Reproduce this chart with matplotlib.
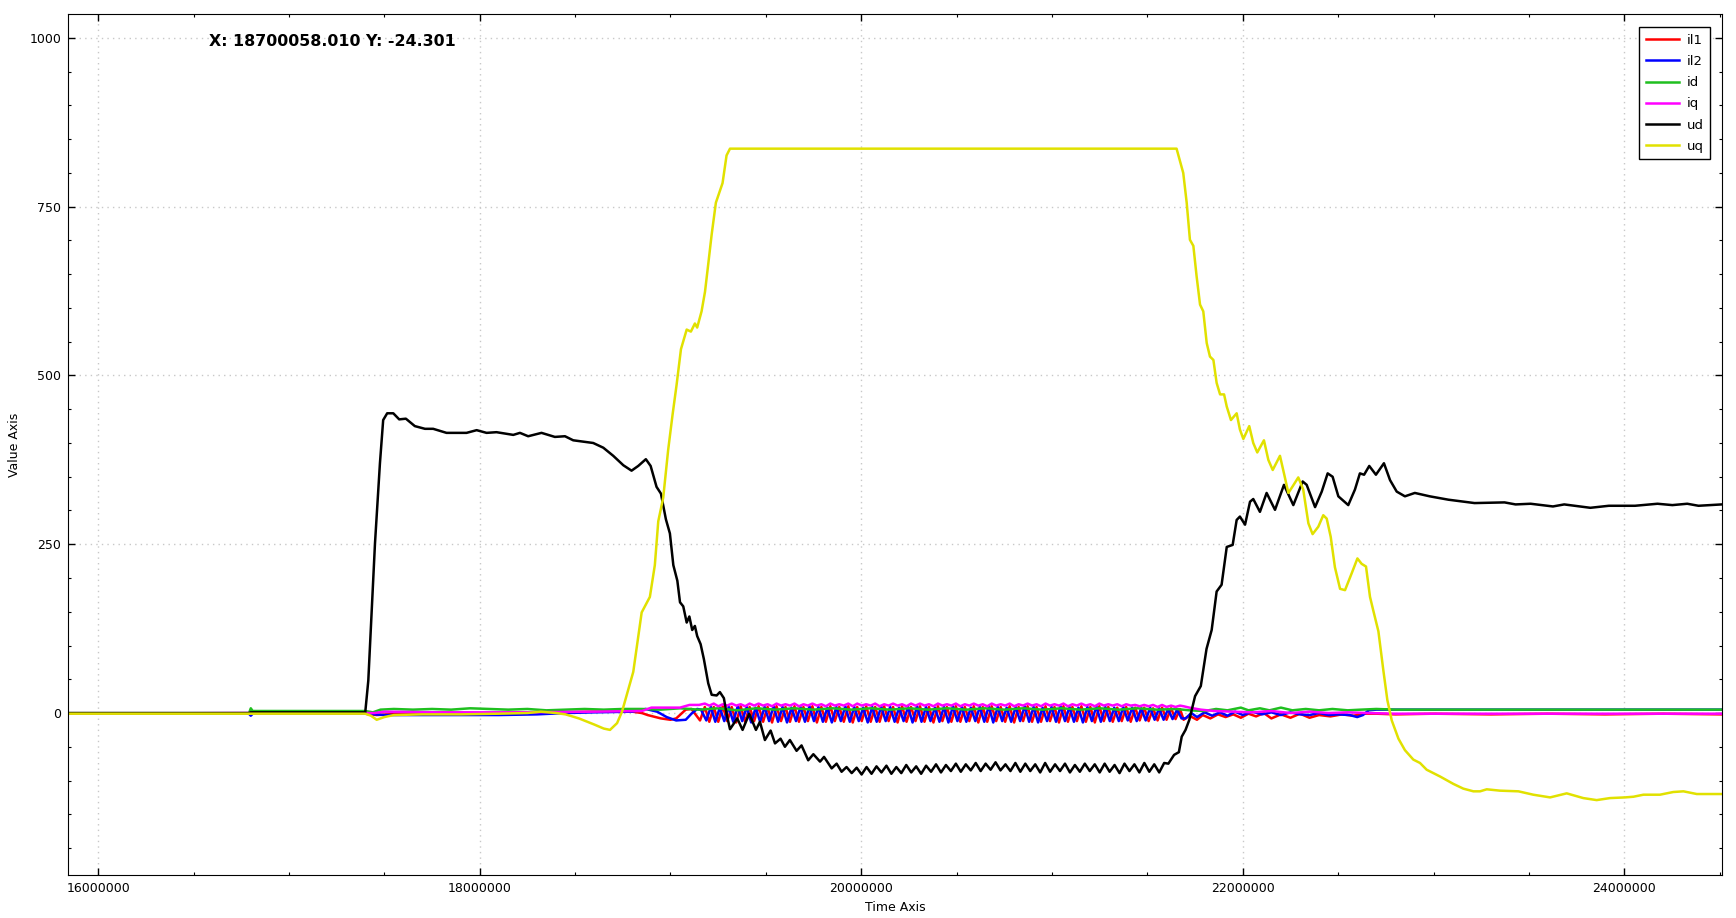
import numpy as np
import matplotlib
matplotlib.use("Agg")
import matplotlib.pyplot as plt
from matplotlib.ticker import MultipleLocator, FuncFormatter

# time values in units of 1e6
# ---- il1 (red) ----
il1_head_t = [15.84, 16.79, 16.80, 16.81, 17.40, 17.46, 17.52, 17.60, 17.80, 18.00, 18.20, 18.40,
              18.60, 18.80, 18.85, 18.88, 18.95, 19.00, 19.03, 19.08, 19.11, 19.155]
il1_head_v = [-1, -1, -1, -1, -1, -3, -2, -1, 1, 0, 1, 1,
              2, 2, 0, -3, -8, -10, -8, 5, 6, -11]
il1_osc_t0, il1_osc_dt = 19.18, 0.0235
il1_osc = [
    9, -13, 9, -13, 10, -12, 9, -14, 10, -13,
    9, -12, 10, -13, 9, -14, 10, -12, 9, -13,
    10, -13, 9, -12, 10, -14, 9, -13, 10, -12,
    9, -13, 10, -14, 9, -12, 10, -13, 9, -13,
    10, -12, 9, -14, 10, -13, 9, -12, 10, -13,
    9, -14, 10, -12, 9, -13, 10, -13, 9, -12,
    10, -14, 9, -13, 10, -12, 9, -13, 10, -14,
    9, -12, 10, -13, 9, -13, 10, -12, 9, -14,
    10, -13, 9, -12, 10, -13, 9, -14, 10, -12,
    9, -13, 8, -12, 9, -13, 8, -11, 8, -12,
    7, -11, 8, -10, 7, -9, 6]
il1_tail_t = [21.69, 21.72, 21.76, 21.79, 21.83, 21.87, 21.91, 21.95, 21.99, 22.03, 22.07, 22.11,
              22.15, 22.20, 22.25, 22.30, 22.35, 22.40, 22.46, 22.52, 22.58, 22.64, 22.70, 22.80,
              23.00, 23.30, 23.60, 23.90, 24.20, 24.51]
il1_tail_v = [-10, -4, -10, -3, -8, -2, -6, -2, -7, -1, -5, 0,
              -8, -2, -7, -1, -7, -3, -5, -2, -4, -1, -1, -2,
              -1, -2, -1, -2, -1, -2]

# ---- il2 (blue) ----
il2_head_t = [15.84, 16.79, 16.80, 16.81, 17.40, 17.50, 17.70, 17.90, 18.10, 18.30, 18.45, 18.60,
              18.80, 18.87, 18.93, 18.98, 19.03, 19.08, 19.11, 19.14, 19.16]
il2_head_v = [-1, -1, -4, -1, -1, -3, -3, -3, -3, -2, 0, 1,
              2, 6, 2, -6, -11, -10, -1, 6, 5]
il2_osc_t0, il2_osc_dt = 19.188, 0.0235
il2_osc = [
    -11, 9, -13, 8, -12, 9, -13, 10, -12, 9,
    -14, 8, -13, 9, -12, 10, -13, 9, -14, 8,
    -12, 9, -13, 10, -12, 9, -13, 8, -14, 9,
    -12, 10, -13, 9, -12, 8, -14, 9, -13, 10,
    -12, 9, -13, 8, -12, 9, -14, 10, -13, 9,
    -12, 8, -13, 9, -14, 10, -12, 9, -13, 8,
    -12, 9, -13, 10, -14, 9, -12, 8, -13, 9,
    -12, 10, -13, 9, -14, 8, -12, 9, -13, 10,
    -12, 9, -13, 8, -14, 9, -12, 10, -13, 9,
    -12, 8, -12, 9, -11, 8, -12, 7, -11, 8,
    -10, 7, -10, 6, -9, 5, -8]
il2_tail_t = [21.70, 21.73, 21.76, 21.80, 21.84, 21.88, 21.92, 21.96, 22.00, 22.05, 22.10, 22.15,
              22.20, 22.25, 22.30, 22.35, 22.40, 22.45, 22.50, 22.56, 22.60, 22.63, 22.66, 22.70,
              23.50, 24.51]
il2_tail_v = [-8, 0, -6, 1, -4, 1, -4, 2, -3, 2, -2, 1,
              -3, 1, -2, -3, 0, -3, -2, -3, -6, -3, 4, 5,
              5, 5]

# ---- id (green) ----
id_t = [15.84, 16.79, 16.80, 16.81, 17.40, 17.44, 17.48, 17.55, 17.65, 17.75, 17.85, 17.95,
        18.05, 18.15, 18.25, 18.35, 18.45, 18.55, 18.65, 18.75, 18.85, 18.95, 19.05, 19.15,
        19.25, 19.35, 19.45, 19.55, 19.65, 19.75, 19.85, 19.95, 20.05, 20.15, 20.25, 20.35,
        20.45, 20.55, 20.65, 20.75, 20.85, 20.95, 21.05, 21.15, 21.25, 21.35, 21.45, 21.55,
        21.65, 21.72, 21.80, 21.86, 21.92, 21.99, 22.03, 22.09, 22.14, 22.20, 22.26, 22.33,
        22.40, 22.47, 22.55, 22.62, 22.70, 22.80, 23.00, 23.50, 24.00, 24.51]
id_v = [-1, -1, 7, 3, 3, 1, 5, 6, 5, 6, 5, 7,
        6, 5, 6, 4, 5, 6, 5, 6, 6, 5, 7, 5,
        7, 4, 7, 5, 7, 5, 7, 5, 7, 5, 7, 5,
        7, 5, 7, 5, 7, 5, 7, 5, 7, 5, 7, 5,
        6, 4, 3, 6, 4, 8, 4, 7, 4, 8, 4, 6,
        4, 6, 4, 5, 6, 5, 5, 5, 5, 5]

# ---- iq (magenta) ----
iq_head_t = [15.84, 16.80, 17.45, 17.50, 17.80, 18.20, 18.60, 18.85, 18.90, 19.00, 19.05, 19.10, 19.15]
iq_head_v = [-1, 0, 0, 2, 1, 1, 2, 3, 8, 8, 8, 12, 12]
iq_osc_t0, iq_osc_dt = 19.18, 0.0235
iq_osc = [
    14, 11, 14, 10, 13, 11, 14, 11, 13, 10,
    14, 11, 14, 11, 13, 10, 14, 11, 13, 11,
    14, 10, 13, 11, 14, 11, 13, 10, 14, 11,
    13, 11, 14, 10, 14, 11, 13, 11, 14, 10,
    13, 11, 14, 11, 13, 10, 14, 11, 14, 11,
    13, 10, 14, 11, 13, 11, 14, 10, 13, 11,
    14, 11, 13, 10, 14, 11, 13, 11, 14, 10,
    13, 11, 14, 11, 13, 10, 14, 11, 13, 11,
    14, 10, 13, 11, 14, 11, 13, 10, 14, 11,
    13, 11, 13, 10, 13, 11, 12, 10, 12, 10,
    12, 9, 12, 9, 11, 9, 11]
iq_tail_t = [21.69, 21.72, 21.78, 21.85, 21.95, 22.05, 22.15, 22.25, 22.35, 22.45, 22.55, 22.65,
             22.80, 24.51]
iq_tail_v = [10, 8, 5, 3, 2, 1, 3, 0, 2, 0, 1, 0, -1, -1]

# ---- ud (black) ----
ud_head_t = [15.84, 16.79, 16.80, 17.40, 17.416, 17.451, 17.477, 17.494, 17.515, 17.547, 17.578,
             17.613, 17.660, 17.713, 17.756, 17.826, 17.931, 17.984, 18.036, 18.088, 18.176,
             18.211, 18.254, 18.324, 18.394, 18.447, 18.490, 18.595, 18.648, 18.700, 18.753,
             18.796, 18.831, 18.871, 18.896, 18.927, 18.950, 18.976, 18.997, 19.015, 19.036,
             19.050, 19.067, 19.085, 19.099, 19.114, 19.128, 19.140, 19.158, 19.175, 19.198,
             19.216, 19.242, 19.259, 19.280, 19.294, 19.312, 19.350, 19.378, 19.413, 19.448,
             19.469, 19.495, 19.525, 19.548, 19.577, 19.600, 19.626, 19.661, 19.687, 19.722,
             19.749, 19.784, 19.805, 19.845, 19.871, 19.897, 19.923, 19.950, 19.976, 20.002]
ud_head_v = [0, 0, 1, 1, 48, 251, 370, 434, 444, 444, 435,
             436, 425, 421, 421, 415, 415, 419, 415, 416, 412,
             415, 410, 415, 409, 410, 404, 400, 393, 381, 367,
             359, 366, 376, 366, 335, 325, 287, 266, 219, 196,
             164, 158, 134, 143, 123, 129, 114, 102, 80, 44,
             27, 26, 31, 22, -1, -24, -8, -25, -1, -25,
             -13, -40, -26, -45, -38, -50, -40, -56, -48, -70,
             -61, -72, -65, -82, -75, -87, -80, -89, -81, -91]
ud_osc_t0, ud_osc_dt = 20.028, 0.026
ud_osc = [
    -80, -90, -79, -88, -78, -90, -80, -89, -77, -88,
    -79, -90, -78, -87, -76, -88, -77, -86, -75, -87,
    -76, -85, -74, -86, -75, -84, -73, -85, -76, -86,
    -74, -87, -75, -86, -76, -88, -74, -87, -76, -86,
    -75, -88, -77, -87, -75, -86, -76, -88, -75, -87,
    -77, -89, -75, -86, -76, -88, -74, -87, -76, -88,
    -74]
ud_tail_t = [21.61, 21.64, 21.665, 21.68, 21.70, 21.72, 21.75, 21.78, 21.81, 21.837, 21.863, 21.889,
             21.916, 21.947, 21.968, 21.985, 22.012, 22.038, 22.055, 22.090, 22.125, 22.169,
             22.216, 22.265, 22.314, 22.335, 22.379, 22.414, 22.445, 22.471, 22.501, 22.553,
             22.588, 22.614, 22.636, 22.663, 22.698, 22.740, 22.772, 22.807, 22.850, 22.902,
             22.980, 23.078, 23.215, 23.372, 23.430, 23.509, 23.626, 23.685, 23.822, 23.919,
             24.056, 24.174, 24.252, 24.330, 24.389, 24.51]
ud_tail_v = [-75, -62, -58, -35, -25, -10, 25, 40, 95, 123, 180, 190,
             246, 249, 286, 291, 279, 313, 317, 298, 326, 301,
             338, 308, 343, 338, 305, 328, 355, 350, 321, 308,
             331, 355, 353, 366, 353, 370, 345, 328, 321, 326,
             321, 316, 311, 312, 309, 310, 306, 309, 304, 307,
             307, 310, 308, 310, 307, 309]

# ---- uq (yellow) ----
uq_t = [15.84, 17.40, 17.43, 17.46, 17.50, 17.55, 17.70, 17.90, 18.10, 18.25, 18.32, 18.40,
        18.45, 18.52, 18.60, 18.65, 18.683, 18.72, 18.746, 18.805, 18.849, 18.892, 18.918, 18.936,
        18.962, 18.988, 19.011, 19.032, 19.055, 19.085, 19.107, 19.128, 19.140, 19.163, 19.181,
        19.198, 19.216, 19.238, 19.273, 19.294, 19.312, 21.653, 21.688, 21.706, 21.723, 21.741,
        21.758, 21.776, 21.793, 21.811, 21.828, 21.846, 21.863, 21.881, 21.902, 21.916, 21.938,
        21.968, 21.985, 22.003, 22.034, 22.055, 22.076, 22.111, 22.134, 22.157, 22.195, 22.216,
        22.239, 22.262, 22.291, 22.317, 22.344, 22.366, 22.396, 22.422, 22.440, 22.461, 22.483,
        22.510, 22.536, 22.571, 22.601, 22.623, 22.646, 22.667, 22.684, 22.711, 22.737, 22.758,
        22.781, 22.816, 22.850, 22.894, 22.929, 22.964, 23.034, 23.104, 23.156, 23.209, 23.244,
        23.279, 23.348, 23.445, 23.523, 23.611, 23.698, 23.785, 23.855, 23.925, 24.004, 24.048,
        24.100, 24.187, 24.257, 24.310, 24.380, 24.449, 24.51]
uq_v = [-1, -1, -4, -10, -6, -3, -2, -2, -1, 0, 2, 0,
        -2, -8, -17, -23, -25, -15, 2, 61, 149, 172, 219, 284,
        319, 390, 442, 486, 539, 568, 565, 577, 571, 595, 624,
        665, 709, 756, 785, 826, 836, 836, 800, 756, 701, 692,
        647, 605, 595, 548, 528, 523, 489, 472, 472, 454, 434,
        444, 420, 406, 425, 400, 386, 404, 375, 360, 381, 355,
        326, 336, 349, 331, 281, 265, 276, 293, 288, 261, 216,
        184, 182, 207, 229, 221, 217, 172, 152, 121, 63, 19,
        -11, -38, -55, -69, -74, -84, -94, -105, -112, -116, -116,
        -113, -115, -116, -121, -125, -119, -126, -129, -126, -125, -124,
        -121, -121, -117, -116, -120, -120, -120]


def build(head_t, head_v, osc_t0, osc_dt, osc_v, tail_t, tail_v):
    osc_t = osc_t0 + osc_dt * np.arange(len(osc_v))
    t = np.concatenate([head_t, osc_t, tail_t]) * 1e6
    v = np.concatenate([head_v, osc_v, tail_v])
    return t, v


series = [
    ("il1", "#ff0000", build(il1_head_t, il1_head_v, il1_osc_t0, il1_osc_dt, il1_osc, il1_tail_t, il1_tail_v)),
    ("il2", "#0000ff", build(il2_head_t, il2_head_v, il2_osc_t0, il2_osc_dt, il2_osc, il2_tail_t, il2_tail_v)),
    ("id", "#1fbf1f", (np.array(id_t) * 1e6, np.array(id_v))),
    ("iq", "#ff00ff", build(iq_head_t, iq_head_v, iq_osc_t0, iq_osc_dt, iq_osc, iq_tail_t, iq_tail_v)),
    ("ud", "#000000", build(ud_head_t, ud_head_v, ud_osc_t0, ud_osc_dt, ud_osc, ud_tail_t, ud_tail_v)),
    ("uq", "#e1e100", (np.array(uq_t) * 1e6, np.array(uq_v))),
]

fig = plt.figure(figsize=(17.36, 9.18), dpi=100)
ax = fig.add_axes([0.0393, 0.0468, 0.9524, 0.9376])

for name, color, (t, v) in series:
    ax.plot(t, v, color=color, lw=1.8, label=name)

ax.set_xlim(15.843e6, 24.51e6)
ax.set_ylim(-240, 1035)

ax.xaxis.set_major_locator(MultipleLocator(2e6))
ax.xaxis.set_minor_locator(MultipleLocator(5e5))
ax.yaxis.set_major_locator(MultipleLocator(250))
ax.yaxis.set_minor_locator(MultipleLocator(50))
ax.xaxis.set_major_formatter(FuncFormatter(lambda x, p: f"{x:.0f}"))
ax.yaxis.set_major_formatter(FuncFormatter(lambda y, p: f"{y:.0f}"))

ax.tick_params(which="both", direction="in", top=True, right=True, labelsize=9)
ax.tick_params(which="major", length=5, width=1, pad=5)
ax.tick_params(which="minor", length=2.5, width=0.8)

ax.grid(True, which="major", linestyle=(0, (1, 3)), color="#c8c8c8", lw=1)

ax.set_xlabel("Time Axis", fontsize=9, labelpad=4)
ax.set_ylabel("Value Axis", fontsize=9, labelpad=6)

ax.text(0.0851, 0.969, "X: 18700058.010 Y: -24.301", transform=ax.transAxes,
        ha="left", va="center", fontsize=11.4, fontweight="bold")

leg = ax.legend(loc="upper right", bbox_to_anchor=(0.993, 0.985), fontsize=9.5,
                fancybox=False, framealpha=1, edgecolor="black", labelspacing=0.62,
                handlelength=2.5, handletextpad=0.6, borderpad=0.5, borderaxespad=0)
leg.get_frame().set_linewidth(1)

fig.savefig("out.png", dpi=100)
